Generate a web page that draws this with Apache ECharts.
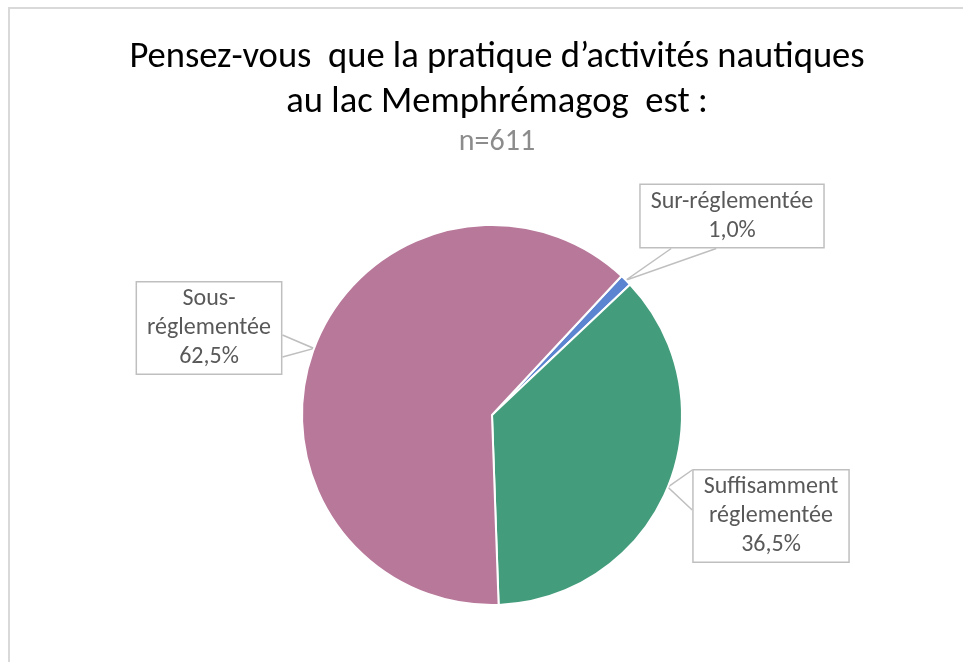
<!DOCTYPE html>
<html>
<head>
<meta charset="utf-8">
<script src="https://cdn.jsdelivr.net/npm/echarts@6/dist/echarts.min.js"></script>
<style>
  html, body { margin: 0; padding: 0; background: #fff; }
  #chart { width: 963px; height: 662px; }
</style>
</head>
<body>
<div id="chart"></div>
<script>
// données du graphique
var categories = ['Sur-réglementée', 'Suffisamment\nréglementée', 'Sous-\nréglementée'];
var values = [1.0, 36.5, 62.5];
var colors = ['#5b84d1', '#439c7b', '#b7789a'];

// position des étiquettes (centre de la boîte)
var labelPos = [[732, 216], [771, 516], [209, 328]];

var myChart = echarts.init(document.getElementById('chart'));

function pct(v) {
    return v.toFixed(1).replace('.', ',') + '%';
}

// base de la bulle (pointe en triangle) sur le bord de la boîte
function calloutBase(i, cx, cy, w, h) {
    var l = cx - w / 2, r = cx + w / 2, t = cy - h / 2, b = cy + h / 2;
    if (i === 0) return [[l + 32, b], [l + 77, b]];
    if (i === 1) return [[l, t + 1], [l, t + 41]];
    return [[r, cy + 7], [r, cy + 29]];
}

var option = {
    backgroundColor: '#fff',
    textStyle: { fontFamily: 'Carlito, "Liberation Sans Narrow", "Liberation Sans", sans-serif' },
    title: {
        text: 'Pensez-vous  que la pratique d\u2019activités nautiques\nau lac Memphrémagog  est :',
        subtext: 'n=611',
        left: 492,
        textAlign: 'center',
        top: 30,
        itemGap: 1,
        textStyle: { fontSize: 36.6, fontWeight: 'normal', color: '#000', lineHeight: 45 },
        subtextStyle: { fontSize: 30, color: '#8c8c8c', lineHeight: 32 }
    },
    graphic: [{
        type: 'rect',
        shape: { x: 9, y: 8, width: 1000, height: 700 },
        style: { fill: 'none', stroke: '#d9d9d9', lineWidth: 2 },
        silent: true
    }],
    series: [{
        type: 'pie',
        center: [492, 415],
        radius: 190,
        startAngle: 47,
        clockwise: true,
        avoidLabelOverlap: false,
        itemStyle: { borderColor: '#fff', borderWidth: 2 },
        label: {
            show: true,
            position: 'outside',
            color: '#595959',
            fontSize: 24,
            lineHeight: 29,
            align: 'center',
            backgroundColor: '#fff',
            borderColor: '#bfbfbf',
            borderWidth: 1.5,
            padding: [2, 10, 2, 10],
            formatter: function (p) {
                return p.name + '\n' + pct(p.value);
            }
        },
        labelLine: {
            show: true,
            length: 10,
            length2: 0,
            lineStyle: { color: '#bfbfbf', width: 1.5 }
        },
        labelLayout: function (params) {
            var i = params.dataIndex;
            var pos = labelPos[i];
            var rect = params.labelRect;
            var tip = params.labelLinePoints[0];
            var base = calloutBase(i, pos[0], pos[1], rect.width, rect.height);
            return {
                x: pos[0], y: pos[1], align: 'center', verticalAlign: 'middle',
                labelLinePoints: [base[0], tip, base[1]]
            };
        },
        data: values.map(function (v, i) {
            return { value: v, name: categories[i], itemStyle: { color: colors[i] } };
        })
    }]
};

myChart.setOption(option);
</script>
</body>
</html>
